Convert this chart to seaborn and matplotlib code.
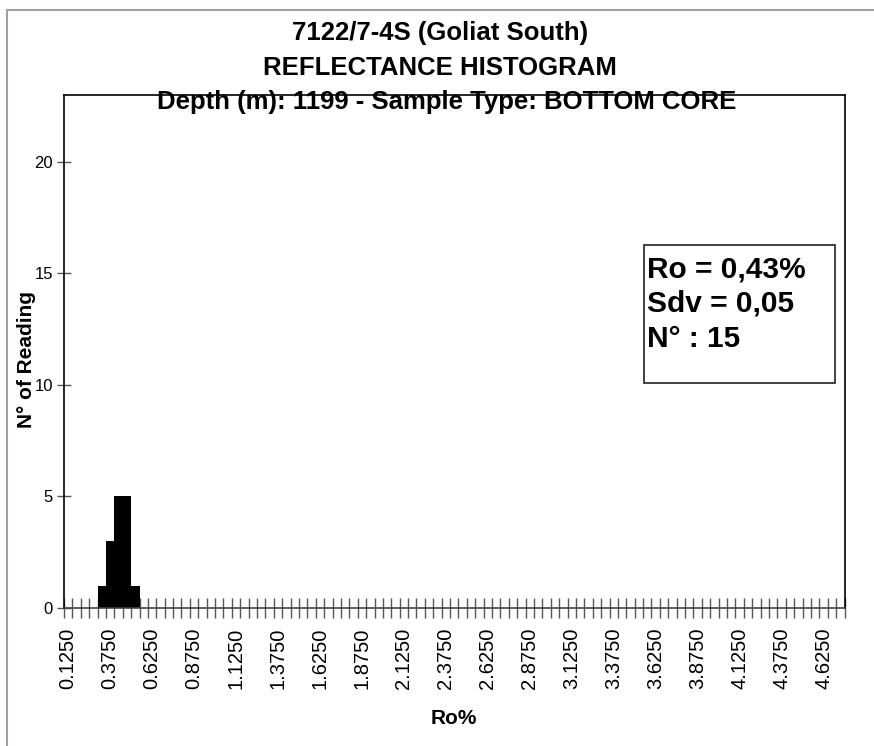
import matplotlib
matplotlib.use("Agg")
import matplotlib.pyplot as plt
from matplotlib.patches import Rectangle
from matplotlib.ticker import FixedLocator
import seaborn as sns
import pandas as pd

# ---- data -----------------------------------------------------------------
ro_bins = [
    "0.1250", "0.1750", "0.2250", "0.2750", "0.3250", "0.3750", "0.4250", "0.4750", "0.5250", "0.5750",
    "0.6250", "0.6750", "0.7250", "0.7750", "0.8250", "0.8750", "0.9250", "0.9750", "1.0250", "1.0750",
    "1.1250", "1.1750", "1.2250", "1.2750", "1.3250", "1.3750", "1.4250", "1.4750", "1.5250", "1.5750",
    "1.6250", "1.6750", "1.7250", "1.7750", "1.8250", "1.8750", "1.9250", "1.9750", "2.0250", "2.0750",
    "2.1250", "2.1750", "2.2250", "2.2750", "2.3250", "2.3750", "2.4250", "2.4750", "2.5250", "2.5750",
    "2.6250", "2.6750", "2.7250", "2.7750", "2.8250", "2.8750", "2.9250", "2.9750", "3.0250", "3.0750",
    "3.1250", "3.1750", "3.2250", "3.2750", "3.3250", "3.3750", "3.4250", "3.4750", "3.5250", "3.5750",
    "3.6250", "3.6750", "3.7250", "3.7750", "3.8250", "3.8750", "3.9250", "3.9750", "4.0250", "4.0750",
    "4.1250", "4.1750", "4.2250", "4.2750", "4.3250", "4.3750", "4.4250", "4.4750", "4.5250", "4.5750",
    "4.6250", "4.6750", "4.7250",
]
readings = [0, 0, 0, 0, 1, 3, 5, 5, 1] + [0] * 84

tick_labels = ["0.1250", "0.3750", "0.6250", "0.8750", "1.1250", "1.3750", "1.6250",
               "1.8750", "2.1250", "2.3750", "2.6250", "2.8750", "3.1250", "3.3750",
               "3.6250", "3.8750", "4.1250", "4.3750", "4.6250"]
y_ticks = [0, 5, 10, 15, 20]

title_lines = ["7122/7-4S (Goliat South)", "REFLECTANCE HISTOGRAM",
               "Depth (m): 1199 - Sample Type: BOTTOM CORE"]
stats_lines = ["Ro = 0,43%", "Sdv = 0,05", "N° : 15"]

df = pd.DataFrame({"bin": ro_bins, "n": readings})

# ---- figure ---------------------------------------------------------------
sns.set_theme(style="white")
plt.rcParams["font.family"] = ["Liberation Sans", "DejaVu Sans"]
plt.rcParams.update({"text.color": "black", "axes.labelcolor": "black",
                     "xtick.color": "black", "ytick.color": "black"})

W, H = 874, 746
fig = plt.figure(figsize=(W / 100, H / 100), dpi=100)
fig.patch.set_facecolor("white")

L, R, T, B = 64, 844.5, 95, 608
ax = fig.add_axes([L / W, 1 - B / H, (R - L) / W, (B - T) / H])

sns.barplot(data=df, x="bin", y="n", color="black", width=1.0,
            saturation=1, edgecolor="black", linewidth=0, ax=ax, order=ro_bins)

ax.set_xlim(-0.5, len(ro_bins) - 0.5)
ax.set_ylim(0, 23)

# x ticks: labels at the labelled bins, cross tick marks on bin edges
label_pos = [ro_bins.index(t) for t in tick_labels]
ax.set_xticks(label_pos)
ax.set_xticklabels(tick_labels, rotation=90, fontsize=14.5)
ax.tick_params(axis="x", which="major", length=0, pad=14)
ax.xaxis.set_minor_locator(FixedLocator([i - 0.5 for i in range(len(ro_bins) + 1)]))
ax.tick_params(axis="x", which="minor", direction="inout", length=15, width=1,
               color="#555555", bottom=True)

ax.set_yticks(y_ticks)
ax.set_yticklabels([str(v) for v in y_ticks], fontsize=12)
ax.tick_params(axis="y", which="major", direction="inout", length=10, width=1,
               color="#555555", left=True, pad=3)

for s in ax.spines.values():
    s.set_visible(True)
    s.set_color("black")
    s.set_linewidth(1.2)
ax.spines["bottom"].set_color("#444444")

ax.set_xlabel("Ro%", fontsize=15, fontweight="bold")
ax.set_ylabel("N° of Reading", fontsize=15, fontweight="bold")
ax.xaxis.set_label_coords((454 - L) / (R - L), -(709 - B) / (B - T), transform=ax.transAxes)
ax.yaxis.set_label_coords(-(L - 36) / (R - L), (B - 360) / (B - T), transform=ax.transAxes)

# stats box
bx0, bx1, by0, by1 = 644, 835, 245, 383
ax.add_patch(Rectangle(((bx0 - L) / (R - L), (B - by1) / (B - T)),
                       (bx1 - bx0) / (R - L), (by1 - by0) / (B - T),
                       transform=ax.transAxes, facecolor="white",
                       edgecolor="#222222", linewidth=1.2, zorder=5))
for line, base in zip(stats_lines, [277, 312, 347]):
    ax.text((647 - L) / (R - L), (B - base) / (B - T), line, transform=ax.transAxes,
            fontsize=21.5, fontweight="bold", ha="left", va="baseline", zorder=6)

# title
for line, base, cx in zip(title_lines, [40, 75, 108.5], [440, 440, 447]):
    fig.text(cx / W, 1 - base / H, line, ha="center", va="baseline",
             fontsize=18.5, fontweight="bold", zorder=10)

# outer chart border
fig.patches.append(Rectangle((7 / W, -0.1), 1.2, 1.1 - 10 / H, transform=fig.transFigure,
                             facecolor="none", edgecolor="#a0a0a0", linewidth=1.5))

fig.savefig("out.png", dpi=100)
